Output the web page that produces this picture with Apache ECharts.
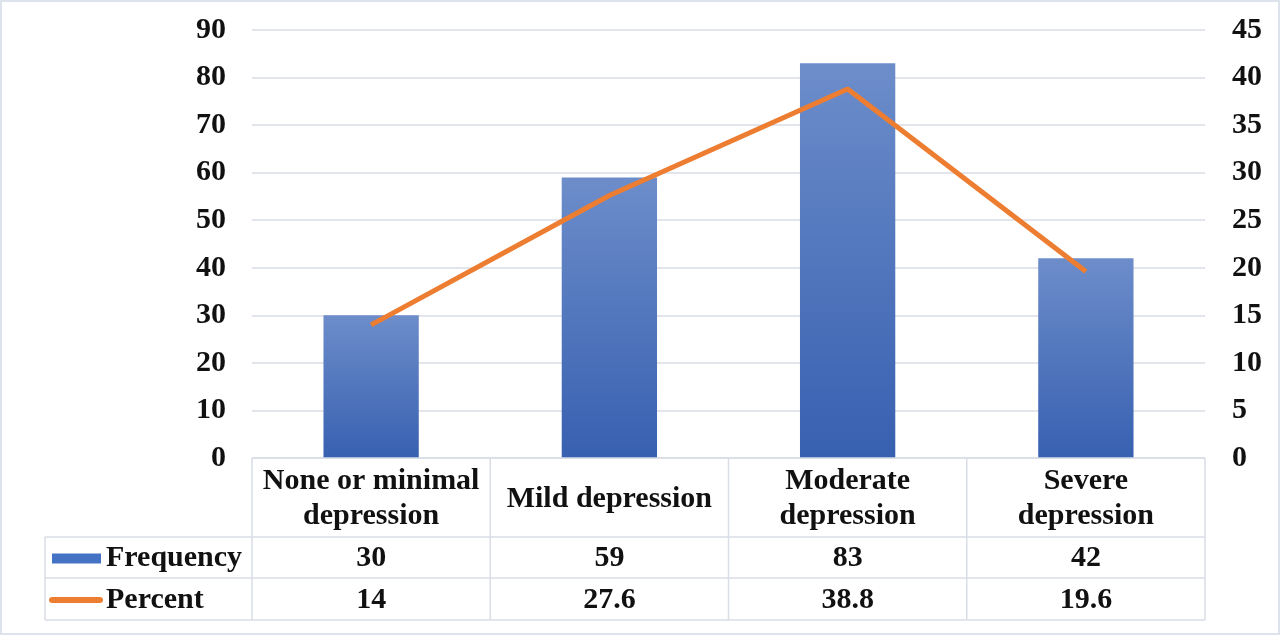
<!DOCTYPE html>
<html><head><meta charset="utf-8">
<script src="https://cdn.jsdelivr.net/npm/echarts@6/dist/echarts.min.js"></script>
<style>html,body{margin:0;padding:0;background:#fff}#c{width:1280px;height:635px}</style>
</head><body><div id="c"></div>
<script>
const categories = ["None or minimal\ndepression", "Mild depression", "Moderate\ndepression", "Severe\ndepression"];
const frequency = [30, 59, 83, 42];
const percent = [14, 27.6, 38.8, 19.6];
const seriesNames = ["Frequency", "Percent"];
const leftTicks = {min: 0, max: 90, interval: 10};
const rightTicks = {min: 0, max: 45, interval: 5};

const FONT = '"Liberation Serif","Times New Roman",serif';
const FS = 30;
const TXT = '#111';
const LINE = '#d9dde6';
const G = {left: 252, right: 75, top: 30, bottom: 177};
const W = 1280, H = 635;
const gx0 = G.left, gx1 = W - G.right, gy1 = H - G.bottom;
const rowY = [gy1, 537, 578, 620];
const tableLeft = 45;

const chart = echarts.init(document.getElementById('c'), null, {renderer: 'canvas'});

const lbl = (extra) => Object.assign({fontFamily: FONT, fontSize: FS, fontWeight: 'bold', color: TXT}, extra);

const graphics = [];
graphics.push({type: 'rect', shape: {x: 1, y: 1, width: W - 2, height: H - 2}, style: {fill: 'none', stroke: '#dde2ec', lineWidth: 2}, z: 0});
graphics.push({type: 'line', shape: {x1: gx0, y1: rowY[0], x2: gx1, y2: rowY[0]}, style: {stroke: LINE, lineWidth: 1.5}, z: 10});
for (let i = 1; i < rowY.length; i++) {
  graphics.push({type: 'line', shape: {x1: tableLeft, y1: rowY[i], x2: gx1, y2: rowY[i]}, style: {stroke: LINE, lineWidth: 1.5}, z: 10});
}
graphics.push({type: 'line', shape: {x1: tableLeft, y1: rowY[1], x2: tableLeft, y2: rowY[3]}, style: {stroke: LINE, lineWidth: 1.5}, z: 10});
const bw = (gx1 - gx0) / categories.length;
for (let i = 0; i <= categories.length; i++) {
  const x = gx0 + bw * i;
  graphics.push({type: 'line', shape: {x1: x, y1: rowY[0], x2: x, y2: rowY[3]}, style: {stroke: LINE, lineWidth: 1.5}, z: 10});
}
const rowMid = [(rowY[1] + rowY[2]) / 2 + 1, (rowY[2] + rowY[3]) / 2 + 1];
graphics.push({type: 'rect', shape: {x: 52, y: rowMid[0] - 5, width: 49, height: 10}, style: {fill: '#4472c4'}, z: 10});
graphics.push({type: 'line', shape: {x1: 52, y1: rowMid[1], x2: 100, y2: rowMid[1]}, style: {stroke: '#ed7d31', lineWidth: 6, lineCap: 'round'}, z: 10});
seriesNames.forEach((n, i) => {
  graphics.push({type: 'text', x: 106, y: rowMid[i], style: {text: n, font: 'bold ' + FS + 'px ' + FONT, fill: TXT, verticalAlign: 'middle', align: 'left'}, z: 10});
});

const option = {
  animation: false,
  backgroundColor: '#fff',
  grid: G,
  xAxis: [
    {type: 'category', data: categories, position: 'bottom', offset: 41,
     axisLine: {show: false}, axisTick: {show: false},
     axisLabel: lbl({margin: 0, verticalAlign: 'middle', lineHeight: 35, interval: 0})},
    {type: 'category', data: frequency.map(String), position: 'bottom', offset: rowMid[0] - gy1,
     axisLine: {show: false}, axisTick: {show: false},
     axisLabel: lbl({margin: 0, verticalAlign: 'middle', interval: 0})},
    {type: 'category', data: percent.map(String), position: 'bottom', offset: rowMid[1] - gy1,
     axisLine: {show: false}, axisTick: {show: false},
     axisLabel: lbl({margin: 0, verticalAlign: 'middle', interval: 0})}
  ],
  yAxis: [
    {type: 'value', min: leftTicks.min, max: leftTicks.max, interval: leftTicks.interval,
     axisLine: {show: false}, axisTick: {show: false},
     splitLine: {lineStyle: {color: LINE, width: 1.5}},
     axisLabel: lbl({margin: 26, padding: [4, 0, 0, 0]})},
    {type: 'value', min: rightTicks.min, max: rightTicks.max, interval: rightTicks.interval, position: 'right',
     axisLine: {show: false}, axisTick: {show: false}, splitLine: {show: false},
     axisLabel: lbl({margin: 27, padding: [4, 0, 0, 0]})}
  ],
  series: [
    {name: seriesNames[0], type: 'bar', data: frequency, xAxisIndex: 0, yAxisIndex: 0, barWidth: '40%',
     itemStyle: {color: new echarts.graphic.LinearGradient(0, 0, 0, 1, [{offset: 0, color: '#6d8dca'}, {offset: 1, color: '#3760b0'}])}},
    {name: seriesNames[1], type: 'line', data: percent, xAxisIndex: 0, yAxisIndex: 1, showSymbol: false, symbol: 'none',
     lineStyle: {color: '#ed7d31', width: 5}, itemStyle: {color: '#ed7d31'}, z: 5}
  ],
  graphic: graphics
};
chart.setOption(option);
</script></body></html>
